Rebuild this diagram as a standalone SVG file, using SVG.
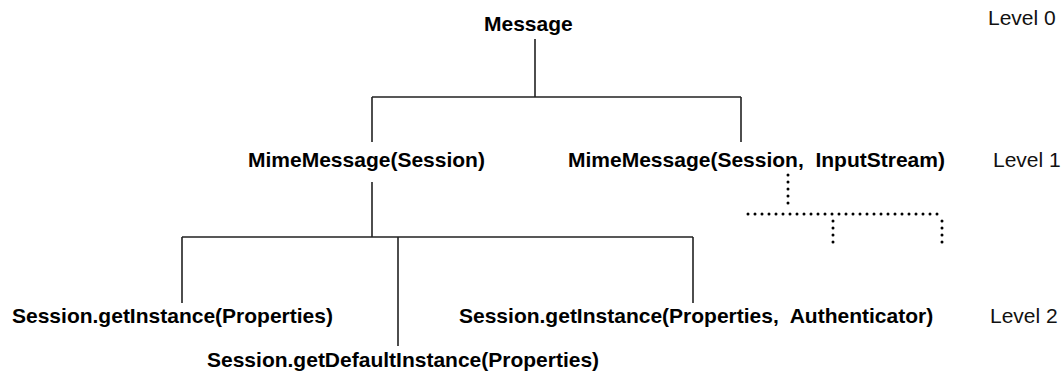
<svg xmlns="http://www.w3.org/2000/svg" width="1063" height="375" viewBox="0 0 1063 375">
<style>
.n{font-family:"Liberation Sans",Arial,sans-serif;font-size:21px;font-weight:bold;fill:#000;white-space:pre}
.lv{font-family:"Liberation Sans",Arial,sans-serif;font-size:21px;fill:#111;white-space:pre}
.c{stroke:#222;stroke-width:1.6;fill:none}
.d{stroke:#000;stroke-width:3;stroke-linecap:round;stroke-dasharray:0 7;fill:none}
</style>
<rect width="1063" height="375" fill="#fff"/>
<g id="connectors">
<path class="c" d="M535 39V97M372 97H741M372 97V142M741 97V142"/>
<path class="c" d="M372 182V237M182 237H693M182 237V303M398 237V346M693 237V303"/>
<path class="d" d="M788 175V207M748 214H943M833 221V248M942 221V246"/>
</g>
<g id="message"><text class="n" x="484" y="31">Message</text></g>
<g id="mime1"><text class="n" x="248" y="167">MimeMessage(Session)</text></g>
<g id="mime2"><text class="n" x="568" y="167">MimeMessage(Session,  InputStream)</text></g>
<g id="getInstance1"><text class="n" x="12" y="323">Session.getInstance(Properties)</text></g>
<g id="getDefault"><text class="n" x="207" y="367">Session.getDefaultInstance(Properties)</text></g>
<g id="getInstance2"><text class="n" x="459" y="323">Session.getInstance(Properties,  Authenticator)</text></g>
<g id="levels">
<text class="lv" x="988" y="25">Level 0</text>
<text class="lv" x="993" y="167">Level 1</text>
<text class="lv" x="990" y="323">Level 2</text>
</g>
</svg>
